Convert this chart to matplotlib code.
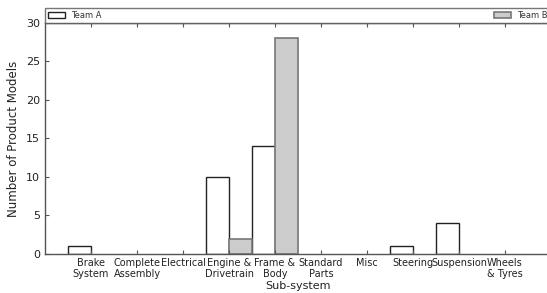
import matplotlib
matplotlib.use("Agg")
import matplotlib.pyplot as plt
from matplotlib.patches import Patch
import numpy as np

# datos
subsistemas = ["Brake\nSystem", "Complete\nAssembly", "Electrical", "Engine &\nDrivetrain",
               "Frame &\nBody", "Standard\nParts", "Misc", "Steering", "Suspension",
               "Wheels\n& Tyres"]
equipo_a = [1, 0, 0, 10, 14, 0, 0, 1, 4, 0]
equipo_b = [0, 0, 0, 2, 28, 0, 0, 0, 0, 0]

gris = "#555555"
texto = "#222222"

fig = plt.figure(figsize=(5.47, 2.93), dpi=100)
ax = fig.add_axes([0.0823, 0.1331, 0.925, 0.789])

x = np.arange(len(subsistemas))
barras_a = ax.bar(x - 0.5, equipo_a, width=0.5, align="edge", color="white",
                  edgecolor="#222222", linewidth=1.0)
barras_b = ax.bar(x, equipo_b, width=0.5, align="edge", color="#cccccc",
                  edgecolor="#777777", linewidth=1.2)
# las barras de altura cero no se ven en el original
for barras, valores in ((barras_a, equipo_a), (barras_b, equipo_b)):
    for b, v in zip(barras, valores):
        if v == 0:
            b.set_linewidth(0)

ax.set_xlim(-1, 10)
ax.set_ylim(0, 30)
ax.set_xticks(x)
ax.set_xticklabels(subsistemas, fontsize=7, color=texto, linespacing=1.05)
ax.set_yticks(range(0, 31, 5))
ax.tick_params(axis="y", labelsize=8, colors=gris, labelcolor=texto)
ax.tick_params(axis="x", colors=gris, labelcolor=texto, pad=3)
ax.tick_params(direction="in", length=3, width=0.8, top=True, right=True)

for s in ax.spines.values():
    s.set_color(gris)
    s.set_linewidth(1.0)

ax.set_xlabel("Sub-system", fontsize=8, color=texto, labelpad=2)
ax.set_ylabel("Number of Product Models", fontsize=8.5, color=texto, labelpad=4)

manijas = [Patch(facecolor="white", edgecolor="#222222", linewidth=1.0, label="Team A"),
           Patch(facecolor="#cccccc", edgecolor="#777777", linewidth=1.2, label="Team B")]
leg = ax.legend(handles=manijas, loc="lower left", bbox_to_anchor=(0, 1, 1, 0.065),
                ncol=2, mode="expand", borderaxespad=0, fontsize=6, fancybox=False,
                borderpad=0.35, handlelength=2.0, handleheight=0.7,
                handletextpad=0.8)
leg.get_frame().set_edgecolor(gris)
leg.get_frame().set_linewidth(1.0)
for t in leg.get_texts():
    t.set_color("#333333")

fig.savefig("out.png", dpi=100)
